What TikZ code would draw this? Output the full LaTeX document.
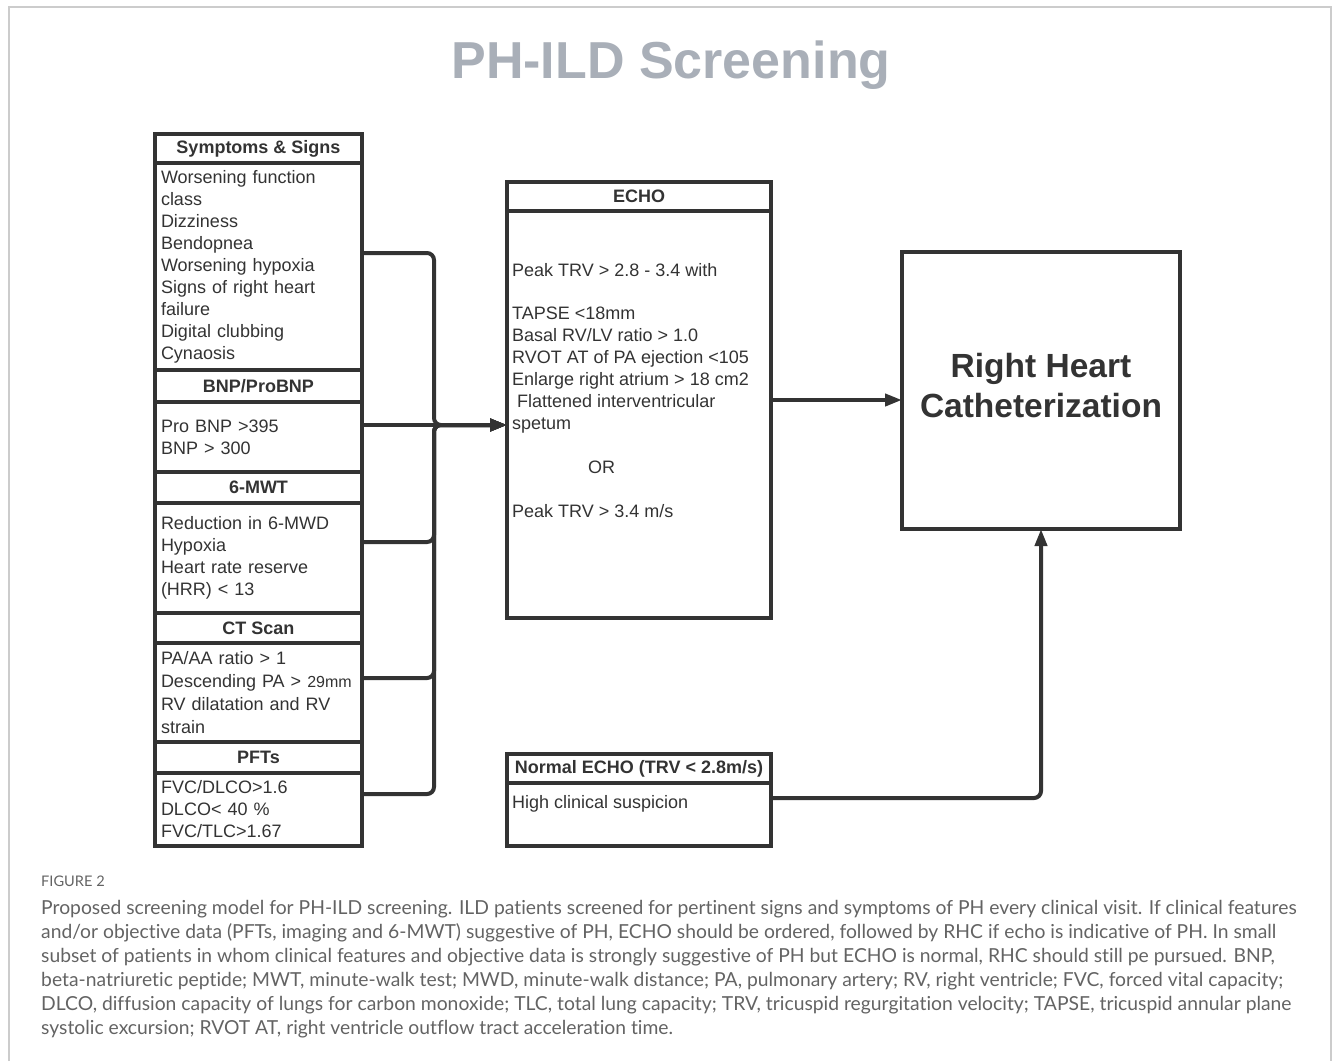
\documentclass[tikz,border=0pt]{standalone}
\usepackage{fontspec}
\setmainfont{Liberation Sans}
\newfontfamily\capfont[Ligatures={NoCommon}]{Lato}
\usepackage{tikz}
\usetikzlibrary{arrows.meta}

\definecolor{ink}{HTML}{333333}
\definecolor{titlegray}{HTML}{A9AFB8}
\definecolor{capgray}{HTML}{636363}
\definecolor{framegray}{HTML}{CCCCCC}

\tikzset{
    box/.style={draw=ink, line width=4pt, outer sep=0pt, inner sep=0pt, anchor=north west,
        minimum width=207pt, text=ink},
    head/.style={box, font=\fontsize{18}{22}\selectfont\bfseries},
    body/.style={box, align=left, text width=195pt, inner xsep=6pt, inner ysep=0pt,
        font=\fontsize{18}{22}\selectfont},
    txt/.style={anchor=north west, inner sep=0pt, align=left, text=ink,
        font=\fontsize{18}{22}\selectfont},
    conn/.style={ink, line width=4pt, rounded corners=7pt, -{Triangle[length=17pt,width=12pt]}},
}

\begin{document}
\begin{tikzpicture}[x=1pt, y=-1pt]
\useasboundingbox (0,0) rectangle (1333,1061);

%% 外框和标题
\draw [framegray, line width=1.5pt] (9,1061) -- (9,7) -- (1331,7) -- (1331,1061);
\node [anchor=base, text=titlegray, font=\fontsize{52}{60}\selectfont\bfseries] (title) at (671,78) {PH-ILD Screening};

%% 左侧一列
\node [head, minimum height=29pt] (symhead) at (155,134) {Symptoms \& Signs};
\node [body, minimum height=207pt] (symbody) at (155,163) {Worsening function\\class\\Dizziness\\Bendopnea\\Worsening hypoxia\\Signs of right heart\\failure\\Digital clubbing\\Cynaosis};
\node [head, minimum height=32pt] (bnphead) at (155,370) {BNP/ProBNP};
\node [body, minimum height=70pt] (bnpbody) at (155,402) {Pro BNP >395\\BNP > 300};
\node [head, minimum height=31pt] (mwthead) at (155,472) {6-MWT};
\node [body, minimum height=110pt] (mwtbody) at (155,503) {Reduction in 6-MWD\\Hypoxia\\Heart rate reserve\\(HRR) < 13};
\node [head, minimum height=30pt] (cthead) at (155,613) {CT Scan};
\node [body, minimum height=99pt, font=\fontsize{18}{23}\selectfont] (ctbody) at (155,643) {PA/AA ratio > 1\\Descending PA > {\fontsize{16}{23}\selectfont 29mm}\\RV dilatation and RV\\strain};
\node [head, minimum height=31pt] (pfthead) at (155,742) {PFTs};
\node [body, minimum height=73pt] (pftbody) at (155,773) {FVC/DLCO>1.6\\DLCO< 40 \%\\FVC/TLC>1.67};

%% ECHO
\node [head, minimum width=264pt, minimum height=29pt] (echohead) at (507,182) {ECHO};
\node [box, minimum width=264pt, minimum height=407pt] (echobody) at (507,211) {};
\node [txt] (echotext) at (512,263) {Peak TRV > 2.8 - 3.4 with\\[21pt]
    TAPSE <18mm\\Basal RV/LV ratio > 1.0\\RVOT AT of PA ejection <105\\Enlarge right atrium > 18 cm2\\
    \hspace*{5pt}Flattened interventricular\\spetum\\[22pt]
    \hspace*{76pt}OR\\[22pt]
    Peak TRV > 3.4 m/s};

\node [head, minimum width=264pt, minimum height=29pt] (normhead) at (507,754) {Normal ECHO (TRV < 2.8m/s)};
\node [box, minimum width=264pt, minimum height=63pt] (normbody) at (507,783) {};
\node [txt] (normtext) at (512,795) {High clinical suspicion};

%% 右心导管
\node [box, minimum width=278pt, minimum height=277pt, align=center,
    font=\fontsize{33.5}{40}\selectfont\bfseries] (rhc) at (902,252) {Right Heart\\Catheterization\\[-30pt]\mbox{}};

%% 连线
\coordinate (bus) at (434,425);
\foreach \src/\dy in {symbody/13.5, mwtbody/16, ctbody/14.5, pftbody/15.5}
{
    \draw [conn] ([yshift=\dy pt]\src.east) -| (bus) -- (bus -| echobody.west);
}
\draw [conn] ([yshift=12pt]bnpbody.east) -- (bus -| echobody.west);

\coordinate (echoout) at ([yshift=14.5pt]echobody.east);
\draw [conn] (echoout) -- (echoout -| rhc.west);
\draw [conn] ([yshift=16.5pt]normbody.east) -| (rhc.south);

%% 图注
\node [anchor=west, inner sep=0pt, text=capgray, font=\capfont\fontsize{14.6}{16}\selectfont] (figlabel) at (41,881) {FIGURE 2};
\node [anchor=north west, inner sep=0pt, align=left, text=capgray, font=\capfont\fontsize{19.3}{24}\selectfont] (caption) at (41,900) {Proposed screening model for PH-ILD screening. ILD patients screened for pertinent signs and symptoms of PH every clinical visit. If clinical features\\
and/or objective data (PFTs, imaging and 6-MWT) suggestive of PH, ECHO should be ordered, followed by RHC if echo is indicative of PH. In small\\
subset of patients in whom clinical features and objective data is strongly suggestive of PH but ECHO is normal, RHC should still pe pursued. BNP,\\
beta-natriuretic peptide; MWT, minute-walk test; MWD, minute-walk distance; PA, pulmonary artery; RV, right ventricle; FVC, forced vital capacity;\\
DLCO, diffusion capacity of lungs for carbon monoxide; TLC, total lung capacity; TRV, tricuspid regurgitation velocity; TAPSE, tricuspid annular plane\\
systolic excursion; RVOT AT, right ventricle outflow tract acceleration time.};

\end{tikzpicture}
\end{document}
